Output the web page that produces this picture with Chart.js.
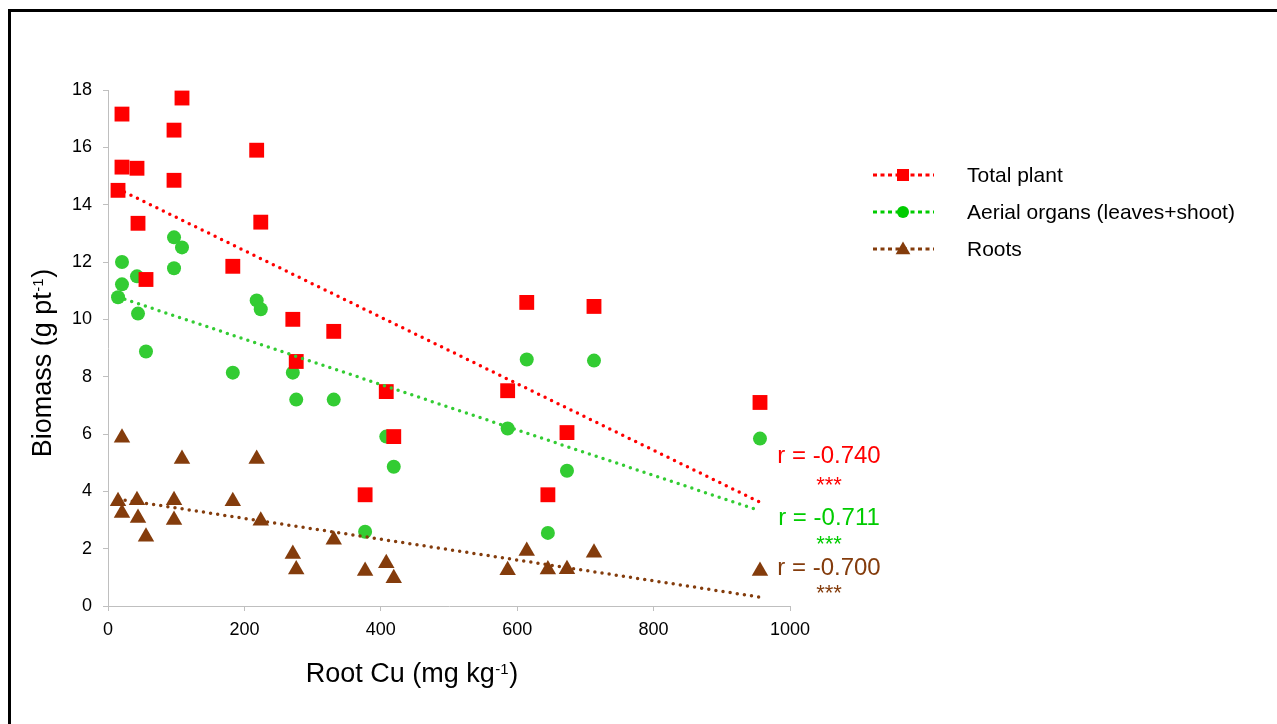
<!DOCTYPE html>
<html lang="en">
<head>
<meta charset="UTF-8">
<title>Biomass vs Root Cu</title>
<script src="https://cdn.jsdelivr.net/npm/chart.js"></script>
<style>
    html, body { margin: 0; padding: 0; background: #fff; overflow: hidden; }
    #wrap { position: relative; width: 1277px; height: 724px; }
    #biomassChart { position: absolute; left: 0; top: 0; }
    #frame { position: absolute; left: 8px; top: 9px; width: 1300px; height: 760px;
             border-top: 3px solid #000; border-left: 3px solid #000; pointer-events: none; }
</style>
</head>
<body>
<div id="wrap">
    <canvas id="biomassChart" width="1277" height="724"></canvas>
    <div id="frame"></div>
</div>

<script>
// data
const rootCu = [14.7, 20.5, 20.5, 42.5, 44, 55.7, 96.8, 96.8, 108.5, 183, 218, 224,
                271, 276, 331, 377, 408, 419, 586, 614, 645, 673, 712.6, 956];
const totalPlant = [14.50, 17.16, 15.31, 15.27, 13.35, 11.39, 16.60, 14.85, 17.72, 11.85, 15.90, 13.39,
                    10.00, 8.53, 9.58, 3.88, 7.48, 5.91, 7.51, 10.59, 3.88, 6.05, 10.45, 7.10];
const aerialOrgans = [10.77, 11.22, 12.00, 11.50, 10.20, 8.88, 12.86, 11.78, 12.51, 8.14, 10.66, 10.35,
                      8.14, 7.20, 7.20, 2.59, 5.91, 4.86, 6.19, 8.60, 2.55, 4.72, 8.56, 5.84];
const roots = [3.65, 5.87, 3.24, 3.69, 3.07, 2.42, 3.69, 3.00, 5.13, 3.65, 5.13, 2.97,
               1.81, 1.27, 2.31, 1.22, 1.49, 0.97, 1.25, 1.92, 1.27, 1.28, 1.86, 1.22];

// trend line end points (x from min to max root Cu)
const trendX = [14.7, 956];
const totalTrend = [14.55, 3.62];
const aerialTrend = [10.78, 3.32];
const rootsTrend = [3.73, 0.31];

const seriesLabels = ['Total plant', 'Aerial organs (leaves+shoot)', 'Roots'];
const rLabels = ['r = -0.740', 'r = -0.711', 'r = -0.700'];
const signifLabels = ['***', '***', '***'];

const FONT = "'Liberation Sans', Arial, sans-serif";
const RED = '#FF0000';
const GREEN = '#33CC33';
const GREEN_TXT = '#00CC00';
const BROWN = '#843C0C';

const pts = ys => rootCu.map((x, i) => ({ x: x, y: ys[i] }));
const trend = ys => trendX.map((x, i) => ({ x: x, y: ys[i] }));

function trendSet(ys, color) {
    return {
        data: trend(ys), showLine: true, pointRadius: 0,
        borderColor: color, borderWidth: 3.5, borderDash: [0, 7.2], borderCapStyle: 'round',
        order: 0
    };
}

// draws "main" + superscript + "tail" centred on cx, on baseline by
function supText(ctx, main, sup, tail, cx, by) {
    ctx.font = '27px ' + FONT;
    const w1 = ctx.measureText(main).width;
    const w3 = ctx.measureText(tail).width;
    ctx.font = '15px ' + FONT;
    const w2 = ctx.measureText(sup).width + 1;
    let x = cx - (w1 + w2 + w3) / 2;
    ctx.textAlign = 'left';
    ctx.textBaseline = 'alphabetic';
    ctx.font = '27px ' + FONT;
    ctx.fillText(main, x, by);
    ctx.font = '15px ' + FONT;
    ctx.fillText(sup, x + w1 + 0.5, by - 8.5);
    ctx.font = '27px ' + FONT;
    ctx.fillText(tail, x + w1 + w2, by);
}

const overlay = {
    id: 'overlay',
    afterDraw(chart) {
        const ctx = chart.ctx;
        ctx.save();
        ctx.fillStyle = '#000';

        // axis titles
        supText(ctx, 'Root Cu (mg kg', '-1', ')', 412, 682);
        ctx.save();
        ctx.translate(51, 363);
        ctx.rotate(-Math.PI / 2);
        supText(ctx, 'Biomass (g pt', '-1', ')', 0, 0);
        ctx.restore();

        // legend
        const rows = [175, 212, 249];
        const styles = [
            { color: RED, pointStyle: 'rect', radius: 8.5 },
            { color: GREEN_TXT, pointStyle: 'circle', radius: 6 },
            { color: BROWN, pointStyle: 'triangle', radius: 8.5 }
        ];
        rows.forEach((y, i) => {
            const s = styles[i];
            ctx.strokeStyle = s.color;
            ctx.lineWidth = 3;
            ctx.lineCap = 'butt';
            ctx.setLineDash([4, 3.5]);
            ctx.beginPath();
            ctx.moveTo(873, y);
            ctx.lineTo(934, y);
            ctx.stroke();
            ctx.setLineDash([]);
            ctx.fillStyle = s.color;
            Chart.helpers.drawPoint(ctx, { pointStyle: s.pointStyle, radius: s.radius, rotation: 0, borderWidth: 0 }, 903, y + (s.pointStyle === 'triangle' ? 1 : 0));
            ctx.fillStyle = '#000';
            ctx.font = '21px ' + FONT;
            ctx.textAlign = 'left';
            ctx.textBaseline = 'middle';
            ctx.fillText(seriesLabels[i], 967, y + 1);
        });

        // correlation labels
        const colors = [RED, GREEN_TXT, BROWN];
        const rBase = [463, 525, 575];
        const sBase = [492, 551, 600];
        ctx.textAlign = 'center';
        ctx.textBaseline = 'alphabetic';
        rLabels.forEach((t, i) => {
            ctx.fillStyle = colors[i];
            ctx.font = '24px ' + FONT;
            ctx.fillText(t, 829, rBase[i]);
            ctx.font = '22px ' + FONT;
            ctx.fillText(signifLabels[i], 829, sBase[i]);
        });
        ctx.restore();
    }
};

const tickFont = { family: FONT, size: 18 };

new Chart(document.getElementById('biomassChart').getContext('2d'), {
    type: 'scatter',
    data: {
        datasets: [
            trendSet(totalTrend, RED),
            trendSet(aerialTrend, GREEN),
            trendSet(rootsTrend, BROWN),
            { label: seriesLabels[0], data: pts(totalPlant), pointStyle: 'rect', pointRadius: 10.5,
              backgroundColor: RED, borderWidth: 0, order: 1 },
            { label: seriesLabels[1], data: pts(aerialOrgans), pointStyle: 'circle', pointRadius: 7,
              backgroundColor: GREEN, borderWidth: 0, order: 2 },
            { label: seriesLabels[2], data: pts(roots), pointStyle: 'triangle', pointRadius: 9.5,
              backgroundColor: BROWN, borderWidth: 0, order: 3 }
        ]
    },
    options: {
        responsive: false,
        animation: false,
        events: [],
        layout: { padding: { top: 90, right: 487, bottom: 0, left: 0 } },
        plugins: { legend: { display: false }, tooltip: { enabled: false } },
        scales: {
            x: {
                type: 'linear', min: 0, max: 1000,
                ticks: { stepSize: 200, padding: 8, color: '#000', font: tickFont,
                         callback: v => String(v) },
                grid: { drawOnChartArea: false, color: '#BFBFBF', tickLength: 5 },
                border: { color: '#BFBFBF' },
                afterFit: s => { s.height = 118; }
            },
            y: {
                min: 0, max: 18,
                ticks: { stepSize: 2, padding: 11, color: '#000', font: tickFont },
                grid: { drawOnChartArea: false, color: '#BFBFBF', tickLength: 5 },
                border: { color: '#BFBFBF' },
                afterFit: s => { s.width = 108; }
            }
        }
    },
    plugins: [overlay]
});
</script>
</body>
</html>
